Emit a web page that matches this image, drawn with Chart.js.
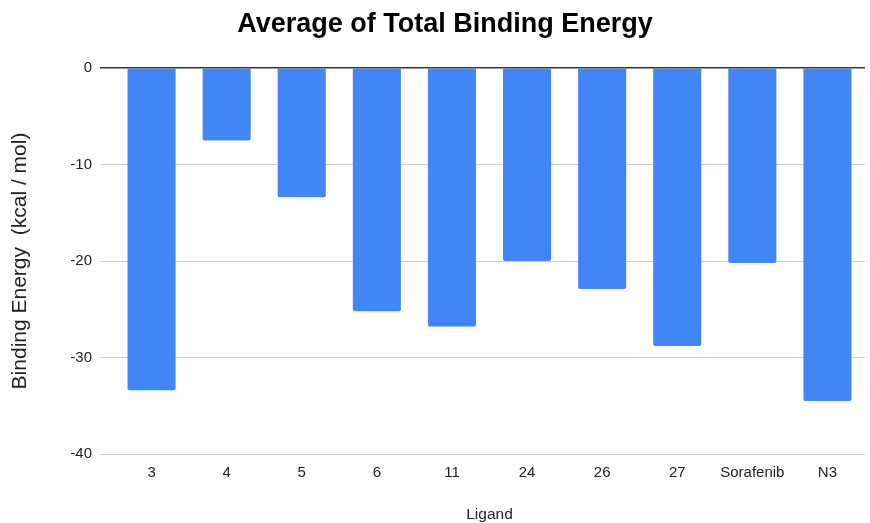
<!DOCTYPE html>
<html>
<head>
<meta charset="utf-8">
<script src="https://cdn.jsdelivr.net/npm/chart.js@4.4.0/dist/chart.umd.min.js"></script>
<style>
  html, body { margin: 0; padding: 0; background: #fff; }
  #wrap { width: 870px; height: 523px; }
</style>
</head>
<body>
<div id="wrap"><canvas id="barChart"></canvas></div>
<script>
// data
var ligands = ["3", "4", "5", "6", "11", "24", "26", "27", "Sorafenib", "N3"];
var bindingEnergy = [-33.4, -7.5, -13.4, -25.2, -26.8, -20.0, -22.9, -28.8, -20.2, -34.5];
var yTicks = [0, -10, -20, -30, -40];

var ctx = document.getElementById("barChart").getContext("2d");
new Chart(ctx, {
  type: 'bar',
  data: {
    labels: ligands,
    datasets: [{
      label: "Average of Total Binding Energy",
      data: bindingEnergy,
      backgroundColor: "#4285f4",
      borderRadius: 2,
      borderSkipped: 'start',
      barPercentage: 0.64,
      categoryPercentage: 1
    }]
  },
  options: {
    responsive: true,
    maintainAspectRatio: false,
    animation: false,
    // left padding keeps the title centred like the original
    layout: { padding: { left: 25, right: 5, top: 0, bottom: 0 } },
    plugins: {
      legend: { display: false },
      tooltip: { enabled: false },
      title: {
        display: true,
        text: "Average of Total Binding Energy",
        color: "#000",
        font: { family: "Liberation Sans", size: 27, weight: "bold" },
        padding: { top: 8, bottom: 27.6 }
      }
    },
    scales: {
      x: {
        grid: { display: false, drawTicks: false },
        border: { display: false },
        ticks: {
          color: "#222",
          padding: 10,
          font: { family: "Liberation Sans", size: 15 }
        },
        title: {
          display: true,
          text: "Ligand",
          color: "#222",
          font: { family: "Liberation Sans", size: 15.5 },
          padding: { top: 0, bottom: -1 }
        },
        afterFit: function(s) { s.height = 69; }
      },
      y: {
        min: -40,
        max: 0,
        afterBuildTicks: function(s) {
          s.ticks = yTicks.map(function(v) { return { value: v }; });
        },
        grid: {
          color: function(c) { return c.tick && c.tick.value === 0 ? "#333" : "#ccc"; },
          tickColor: function(c) { return c.tick && c.tick.value === 0 ? "#333" : "#ccc"; },
          lineWidth: function(c) { return c.tick && c.tick.value === 0 ? 1.5 : 1; },
          tickLength: 14
        },
        border: { display: false },
        ticks: {
          color: "#222",
          padding: 8,
          font: { family: "Liberation Sans", size: 15 }
        },
        title: {
          display: true,
          text: "Binding Energy  (kcal / mol)",
          color: "#222",
          font: { family: "Liberation Sans", size: 21 },
          padding: { top: -17.6, bottom: 4 }
        },
        afterFit: function(s) { s.width = 89; }
      }
    }
  }
});
</script>
</body>
</html>
